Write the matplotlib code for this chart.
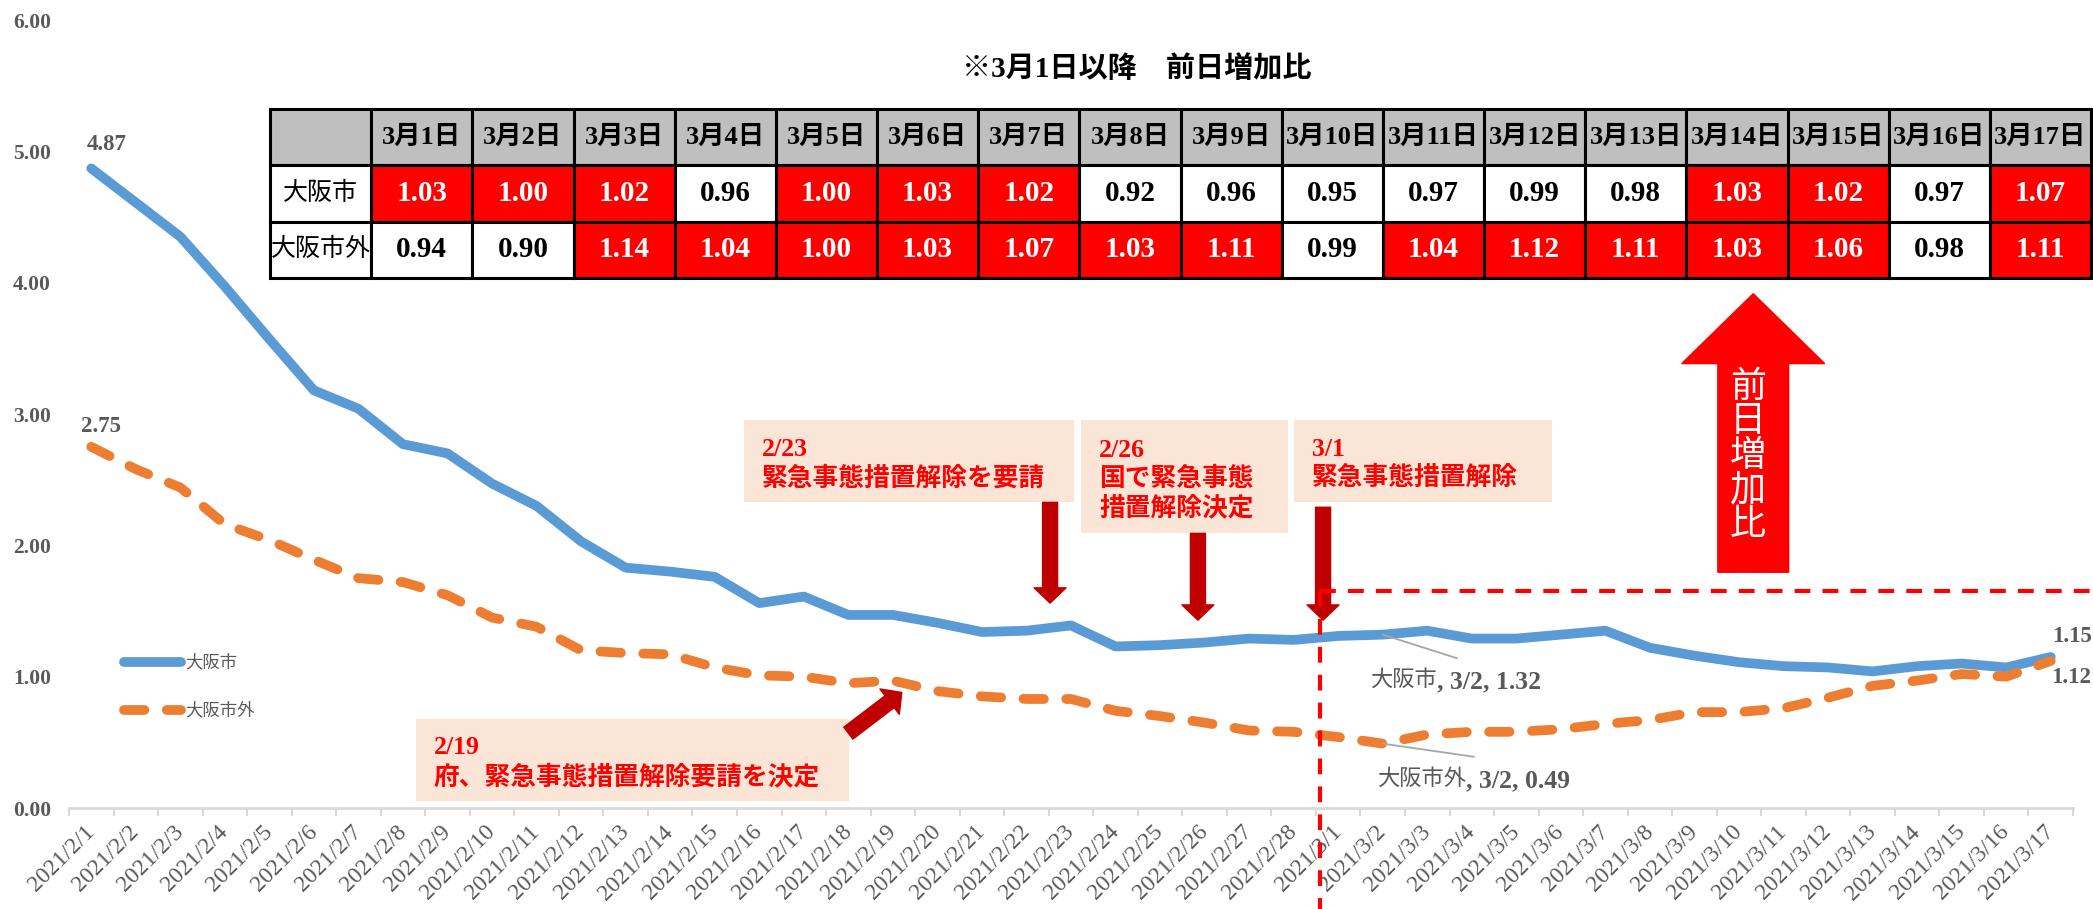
import numpy as np
import matplotlib
matplotlib.use('Agg')
import matplotlib.pyplot as plt
from matplotlib.patches import Rectangle

plt.rcParams['font.family'] = ['Liberation Serif', 'Noto Sans CJK JP', 'DejaVu Sans']

# ---- data ----
dates = ['2021/2/1', '2021/2/2', '2021/2/3', '2021/2/4', '2021/2/5', '2021/2/6', '2021/2/7',
         '2021/2/8', '2021/2/9', '2021/2/10', '2021/2/11', '2021/2/12', '2021/2/13', '2021/2/14',
         '2021/2/15', '2021/2/16', '2021/2/17', '2021/2/18', '2021/2/19', '2021/2/20', '2021/2/21',
         '2021/2/22', '2021/2/23', '2021/2/24', '2021/2/25', '2021/2/26', '2021/2/27', '2021/2/28',
         '2021/3/1', '2021/3/2', '2021/3/3', '2021/3/4', '2021/3/5', '2021/3/6', '2021/3/7',
         '2021/3/8', '2021/3/9', '2021/3/10', '2021/3/11', '2021/3/12', '2021/3/13', '2021/3/14',
         '2021/3/15', '2021/3/16', '2021/3/17']
osaka_city = [4.87, 4.61, 4.35, 3.97, 3.57, 3.18, 3.04, 2.77, 2.70, 2.47, 2.30, 2.03, 1.83, 1.80,
              1.76, 1.56, 1.61, 1.47, 1.47, 1.41, 1.34, 1.35, 1.39, 1.23, 1.24, 1.26, 1.29, 1.28,
              1.31, 1.32, 1.35, 1.29, 1.29, 1.32, 1.35, 1.22, 1.16, 1.11, 1.08, 1.07, 1.04, 1.08,
              1.10, 1.07, 1.15]
osaka_outside = [2.75, 2.58, 2.44, 2.16, 2.04, 1.89, 1.75, 1.72, 1.62, 1.45, 1.38, 1.20, 1.18, 1.17,
                 1.07, 1.01, 1.00, 0.95, 0.97, 0.89, 0.85, 0.83, 0.83, 0.74, 0.70, 0.65, 0.59, 0.58,
                 0.54, 0.49, 0.56, 0.58, 0.58, 0.60, 0.64, 0.67, 0.73, 0.73, 0.76, 0.84, 0.93, 0.97,
                 1.02, 1.00, 1.12]
series_names = ['大阪市', '大阪市外']

table_dates = ['3月1日', '3月2日', '3月3日', '3月4日', '3月5日', '3月6日', '3月7日', '3月8日', '3月9日',
               '3月10日', '3月11日', '3月12日', '3月13日', '3月14日', '3月15日', '3月16日', '3月17日']
city_ratio = [1.03, 1.00, 1.02, 0.96, 1.00, 1.03, 1.02, 0.92, 0.96, 0.95, 0.97, 0.99, 0.98,
              1.03, 1.02, 0.97, 1.07]
outside_ratio = [0.94, 0.90, 1.14, 1.04, 1.00, 1.03, 1.07, 1.03, 1.11, 0.99, 1.04, 1.12, 1.11,
                 1.03, 1.06, 0.98, 1.11]

BLUE = '#5B9BD5'
ORANGE = '#ED7D31'
GRAY = '#595959'
RED = '#FF0000'
DARKRED = '#C00000'
PEACH = '#FBE5D6'

fig = plt.figure(figsize=(20.93, 9.09), dpi=100)
ax = fig.add_axes([69/2093, 1-808/909, 2004/2093, 788/909])
x = np.arange(len(dates))

l1, = ax.plot(x, osaka_city, color=BLUE, lw=7, solid_capstyle='round',
              solid_joinstyle='round', label=series_names[0], zorder=3)
l2, = ax.plot(x, osaka_outside, color=ORANGE, lw=7, linestyle=(0, (2.1, 2.3)),
              dash_capstyle='round', dash_joinstyle='round', label=series_names[1], zorder=3)

ax.set_xlim(-0.5, len(dates) - 0.5)
ax.set_ylim(0, 6)
for s in ['left', 'top', 'right']:
    ax.spines[s].set_visible(False)
ax.spines['bottom'].set_color('#D9D9D9')
ax.spines['bottom'].set_linewidth(2)

ax.set_yticks(np.arange(0, 7))
ax.set_yticklabels(['%.2f' % v for v in np.arange(0, 7)], fontsize=15.5, color=GRAY, fontweight='bold')
ax.tick_params(axis='y', length=0, pad=13)
ax.set_xticks(x)
ax.set_xticklabels(dates, rotation=45, ha='right', va='center', rotation_mode='anchor',
                   fontsize=17, color=GRAY)
ax.set_xticks(np.arange(-0.5, len(dates), 1), minor=True)
ax.tick_params(axis='x', which='major', length=0, pad=15)
ax.tick_params(axis='x', which='minor', length=6, width=1.5, color='#D9D9D9')

# data labels
lab = dict(fontsize=16.5, color=GRAY, fontweight='bold', textcoords='offset points', ha='center', va='center')
ax.annotate('%.2f' % osaka_city[0], (x[0], osaka_city[0]), xytext=(11, 17), **lab)
ax.annotate('%.2f' % osaka_outside[0], (x[0], osaka_outside[0]), xytext=(7, 15), **lab)
ax.annotate('%.2f' % osaka_city[-1], (x[-1], osaka_city[-1]), xytext=(15, 15), **lab)
ax.annotate('%.2f' % osaka_outside[-1], (x[-1], osaka_outside[-1]), xytext=(15, -12), **lab)

# labels for 3/2 with leader lines: name in light type, values in bold
i32 = dates.index('2021/3/2')
for vals, name, pos, end in [(osaka_city, series_names[0], (28.72, 0.97), (30.67, 1.14)),
                             (osaka_outside, series_names[1], (28.87, 0.22), (31.05, 0.39))]:
    ax.annotate('', xy=(x[i32], vals[i32]), xytext=end,
                arrowprops=dict(arrowstyle='-', color='#A6A6A6', lw=1.3, shrinkA=0, shrinkB=0))
    t1 = ax.text(pos[0], pos[1], name, ha='left', va='center', fontsize=16, color=GRAY)
    ax.annotate(', 3/2, %.2f' % vals[i32], xy=(1, 0.42), xycoords=t1, ha='left', va='center',
                fontsize=18.5, color=GRAY, fontweight='bold')

# legend
leg = ax.legend(handles=[l1, l2], loc='center left', bbox_to_anchor=(0.023, 0.153), frameon=False,
                fontsize=12.5, handlelength=3.3, handletextpad=0.25, labelspacing=1.8, borderpad=0)
for t in leg.get_texts():
    t.set_color(GRAY)

# event boxes and arrows
events = [
    ('2/19\n府、緊急事態措置解除要請を決定', (7.29, 0.053, 9.73, 0.624), (17.0, 0.57), (18.2, 0.88)),
    ('2/23\n緊急事態措置解除を要請', (14.66, 2.327, 7.41, 0.624), (21.53, 2.327), (21.53, 1.56)),
    ('2/26\n国で緊急事態\n措置解除決定', (22.23, 2.091, 4.65, 0.860), (24.85, 2.091), (24.85, 1.43)),
    ('3/1\n緊急事態措置解除', (27.01, 2.327, 5.79, 0.624), (27.66, 2.29), (27.66, 1.43)),
]
for txt, (bx, by, bw, bh), a0, a1 in events:
    ax.add_patch(Rectangle((bx, by), bw, bh, facecolor=PEACH, edgecolor='none', zorder=4))
    ax.text(bx + 0.4, by + bh / 2 - 0.02, txt, ha='left', va='center', fontsize=18.5, color=RED,
            fontweight='bold', linespacing=1.25, zorder=5)
    ax.annotate('', xy=a1, xytext=a0, zorder=5,
                arrowprops=dict(arrowstyle='simple,head_length=1.1,head_width=2.3,tail_width=1.08',
                                mutation_scale=10, color=DARKRED, shrinkA=0, shrinkB=0))

# red dashed frame after 3/1
ax.plot([27.6, 27.6], [1.65, -0.77], color=RED, lw=3, linestyle=(0, (3.8, 2.9)), clip_on=False, zorder=6)
ax.plot([27.6, 45.0], [1.65, 1.65], color=RED, lw=3, linestyle=(0, (3.8, 2.9)), clip_on=False, zorder=6)

# big up arrow
ax.arrow(37.32, 1.795, 0, 3.916 - 1.795, width=1.59, head_width=3.21, head_length=0.532,
         length_includes_head=True, color=RED, zorder=4)
ax.text(37.2, 2.68, '\n'.join('前日増加比'), ha='center', va='center', fontsize=26, color='white',
        family='Noto Sans CJK JP', linespacing=0.95, zorder=5)

# ratio table
header = [''] + table_dates
rows = [header,
        [series_names[0]] + ['%.2f' % v for v in city_ratio],
        [series_names[1]] + ['%.2f' % v for v in outside_ratio]]
colors = [['#BFBFBF'] * len(header),
          ['white'] + [RED if v >= 1 else 'white' for v in city_ratio],
          ['white'] + [RED if v >= 1 else 'white' for v in outside_ratio]]
tab = ax.table(cellText=rows, cellColours=colors, cellLoc='center',
               bbox=[0.1003, 0.6726, 0.9087, 0.2145], zorder=7)
tab.auto_set_font_size(False)
for (r, c), cell in tab.get_celld().items():
    cell.set_edgecolor('black')
    cell.set_linewidth(2.2)
    t = cell.get_text()
    t.set_fontsize(21)
    if r == 0:
        t.set_fontweight('bold')
        t.set_fontsize(19)
    elif c == 0:
        t.set_fontsize(18)
    else:
        t.set_fontweight('bold')
        v = (city_ratio if r == 1 else outside_ratio)[c - 1]
        t.set_color('white' if v >= 1 else 'black')

ax.text(0.533, 0.938, '※3月1日以降\u3000前日増加比', transform=ax.transAxes, ha='center', va='center',
        fontsize=21, fontweight='bold', color='black')

fig.savefig('out.png', dpi=100)
